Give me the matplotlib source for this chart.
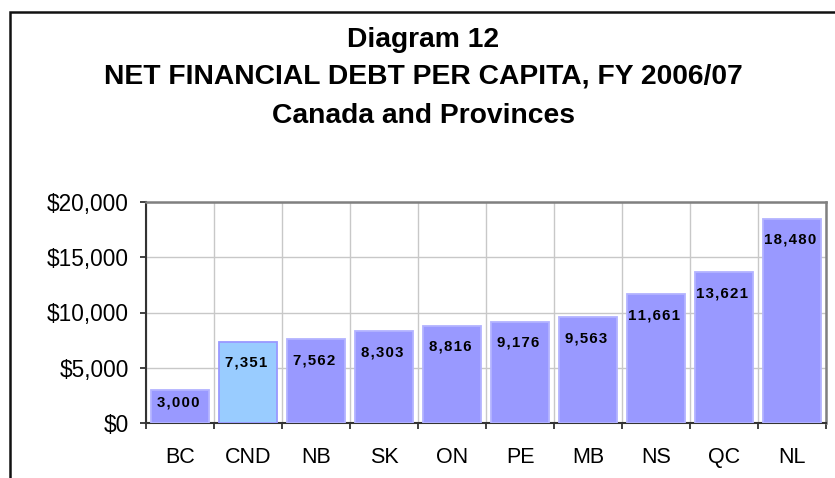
import matplotlib.pyplot as plt
from matplotlib.patches import Rectangle
import numpy as np

# Data
provinces = ['BC', 'CND', 'NB', 'SK', 'ON', 'PE', 'MB', 'NS', 'QC', 'NL']
debt_per_capita = [3000, 7351, 7562, 8303, 8816, 9176, 9563, 11661, 13621, 18480]
highlight = 'CND'
y_ticks = [0, 5000, 10000, 15000, 20000]

plt.rcParams['font.family'] = ['Liberation Sans', 'DejaVu Sans']

fig = plt.figure(figsize=(8.35, 4.78), dpi=100)
ax = fig.add_axes([146 / 835, 1 - 423 / 478, (826 - 146) / 835, (423 - 202) / 478])

# Outer frame around the whole chart (runs off the right and bottom edges)
fig.patches.append(Rectangle((10 / 835, -0.1), 1.2, 0.1 + (1 - 12 / 478),
                             transform=fig.transFigure, fill=False,
                             edgecolor='#111111', linewidth=1.8, clip_on=False))

# Titles
fig.text(0.507, 1 - 47 / 478, 'Diagram 12', ha='center', va='baseline',
         fontsize=20.3, fontweight='bold')
fig.text(0.507, 1 - 84 / 478, 'NET FINANCIAL DEBT PER CAPITA, FY 2006/07',
         ha='center', va='baseline', fontsize=20.3, fontweight='bold')
fig.text(0.507, 1 - 123 / 478, 'Canada and Provinces', ha='center',
         va='baseline', fontsize=20.3, fontweight='bold')

x = np.arange(len(provinces))
colors = ['#99ccff' if p == highlight else '#9999ff' for p in provinces]
edges = ['#9999ff' if p == highlight else '#b3b3ff' for p in provinces]
ax.bar(x, debt_per_capita, width=0.86, color=colors, edgecolor=edges,
       linewidth=1.3, zorder=3)

ax.set_xlim(-0.5, len(provinces) - 0.5)
ax.set_ylim(0, 20000)

# Value labels, letter-spaced, just under the top of each bar
ax_h_px = 423 - 202
for xi, v in zip(x, debt_per_capita):
    bar_px = v / 20000 * ax_h_px
    off_px = min(21, 0.38 * bar_px)
    label = '\u200a'.join(f'{v:,}')
    ax.annotate(label, (xi, v), xytext=(-1.5, -off_px * 0.72),
                textcoords='offset points', ha='center', va='center',
                fontsize=10.8, fontweight='bold', color='black', zorder=4)

# Grid
ax.set_yticks(y_ticks)
ax.set_yticklabels([f'${t:,}' for t in y_ticks])
ax.set_xticks(x)
ax.set_xticklabels(provinces)
ax.set_xticks(np.arange(-0.5, len(provinces)), minor=True)
ax.grid(axis='y', which='major', color='#c8c8c8', linewidth=1, zorder=0)
ax.grid(axis='x', which='minor', color='#c8c8c8', linewidth=1, zorder=0)

ax.tick_params(axis='x', which='major', length=0, pad=17, labelsize=15.5)
ax.tick_params(axis='x', which='minor', length=4, width=1.3, color='#333333',
               direction='out')
ax.tick_params(axis='y', length=4.5, width=1.3, color='#333333', pad=8,
               labelsize=16.3)

for side in ['left', 'bottom']:
    ax.spines[side].set_color('#333333')
    ax.spines[side].set_linewidth(1.5)
for side in ['top', 'right']:
    ax.spines[side].set_color('#808080')
    ax.spines[side].set_linewidth(1.8)

fig.savefig('out.png', dpi=100)
